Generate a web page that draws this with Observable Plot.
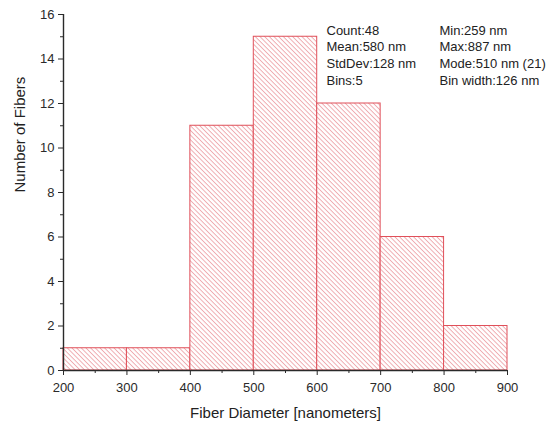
<!DOCTYPE html>
<html>
<head>
<meta charset="utf-8">
<script src="https://cdn.jsdelivr.net/npm/d3@7"></script>
<script src="https://cdn.jsdelivr.net/npm/@observablehq/plot@0.6"></script>
<style>
  body { margin: 0; background: #fff; }
  #chart svg { font-family: "Liberation Sans", Arial, sans-serif; display: block; }
</style>
</head>
<body>
<div id="chart"></div>
<script>
// Histogram bins (fiber diameter, nm) and counts
const binStart = [200, 300, 400, 500, 600, 700, 800];
const binEnd   = [300, 400, 500, 600, 700, 800, 900];
const fiberCounts = [1, 1, 11, 15, 12, 6, 2];

// Axis ticks
const xTicks = [200, 300, 400, 500, 600, 700, 800, 900];
const xMinorTicks = [250, 350, 450, 550, 650, 750, 850];
const yTicks = [0, 2, 4, 6, 8, 10, 12, 14, 16];
const yMinorTicks = [1, 3, 5, 7, 9, 11, 13, 15];

// Summary statistics
const statsLeft = ["Count:48", "Mean:580 nm", "StdDev:128 nm", "Bins:5"];
const statsRight = ["Min:259 nm", "Max:887 nm", "Mode:510 nm (21)", "Bin width:126 nm"];

const bins = binStart.map((x1, i) => ({x1, x2: binEnd[i], count: fiberCounts[i]}));

const axisColor = "#2a2a2a";
const barStroke = "#e0505a";
const hatchColor = "#eb9aa0";

const chart = Plot.plot({
  width: 553,
  height: 427,
  marginLeft: 63,
  marginRight: 46,
  marginTop: 14,
  marginBottom: 57,
  style: {fontSize: "13px", color: axisColor, background: "#fff"},
  x: {domain: [200, 900]},
  y: {domain: [0, 16]},
  marks: [
    Plot.rectY(bins, {x1: "x1", x2: "x2", y: "count", fill: "url(#hatch)", stroke: barStroke, strokeWidth: 1}),
    Plot.axisX({ticks: xTicks, tickSize: 5, tickPadding: 7, tickFormat: d => d, fontSize: 13, label: null, stroke: axisColor}),
    Plot.axisX({ticks: xMinorTicks, tickSize: 3, tickFormat: () => "", label: null, stroke: axisColor}),
    Plot.axisY({ticks: yTicks, tickSize: 5, tickPadding: 4, tickFormat: d => d, fontSize: 13, label: null, stroke: axisColor}),
    Plot.axisY({ticks: yMinorTicks, tickSize: 3, tickFormat: () => "", label: null, stroke: axisColor}),
    Plot.ruleY([0], {stroke: axisColor, strokeWidth: 1.4}),
    Plot.ruleX([200], {stroke: axisColor, strokeWidth: 1.4}),
    // Axis titles
    Plot.text(["Fiber Diameter [nanometers]"], {frameAnchor: "bottom", dy: 47, fontSize: 15, fill: "#222"}),
    Plot.text(["Number of Fibers"], {frameAnchor: "left", dx: -43, rotate: -90, fontSize: 15, fill: "#222"}),
    // Statistics block
    Plot.text([statsLeft.join("\n")], {frameAnchor: "top-left", dx: 263, dy: 8, lineHeight: 1.3, fontSize: 13, fill: "#222"}),
    Plot.text([statsRight.join("\n")], {frameAnchor: "top-left", dx: 376, dy: 8, lineHeight: 1.3, fontSize: 13, fill: "#222"})
  ]
});

// Diagonal hatch fill used by the bars
const svgNS = "http://www.w3.org/2000/svg";
const defs = document.createElementNS(svgNS, "defs");
const pattern = document.createElementNS(svgNS, "pattern");
pattern.setAttribute("id", "hatch");
pattern.setAttribute("patternUnits", "userSpaceOnUse");
pattern.setAttribute("width", "3.3");
pattern.setAttribute("height", "3.3");
pattern.setAttribute("patternTransform", "rotate(45)");
const bg = document.createElementNS(svgNS, "rect");
bg.setAttribute("width", "3.3");
bg.setAttribute("height", "3.3");
bg.setAttribute("fill", "#fff");
pattern.appendChild(bg);
const line = document.createElementNS(svgNS, "line");
line.setAttribute("x1", "0");
line.setAttribute("y1", "0.5");
line.setAttribute("x2", "3.3");
line.setAttribute("y2", "0.5");
line.setAttribute("stroke", hatchColor);
line.setAttribute("stroke-width", "0.8");
pattern.appendChild(line);
defs.appendChild(pattern);
chart.insertBefore(defs, chart.firstChild);

document.getElementById("chart").appendChild(chart);
</script>
</body>
</html>
